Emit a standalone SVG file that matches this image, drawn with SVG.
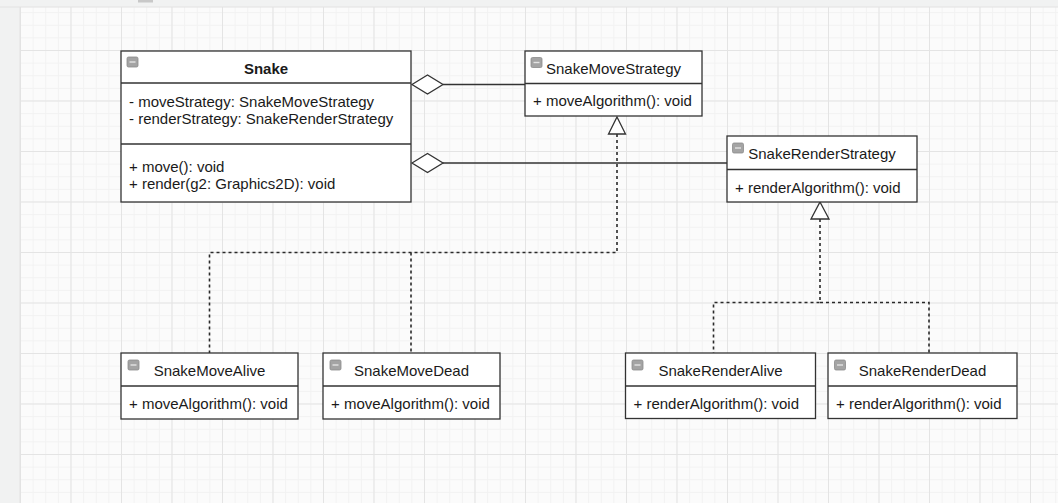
<svg xmlns="http://www.w3.org/2000/svg" width="1058" height="503" viewBox="0 0 1058 503">
  <defs>
    <style>
      .box { fill: #ffffff; stroke: #333333; stroke-width: 1.3; }
      .sep { stroke: #333333; stroke-width: 1.3; }
      .t { font-family: "Liberation Sans", Arial, sans-serif; font-size: 15px; fill: #1a1a1a; }
      .title { text-anchor: middle; }
      .bold { font-weight: bold; }
      .icon rect { fill: #a4a4a4; stroke: #8a8a8a; stroke-width: 0.8; }
      .icon line { stroke: #e4e4e4; stroke-width: 1.4; }
      .solid { fill: none; stroke: #333333; stroke-width: 1.3; }
      .dash { fill: none; stroke: #2a2a2a; stroke-width: 1.6; stroke-dasharray: 3 3; }
      .diamond { fill: #ffffff; stroke: #333333; stroke-width: 1.3; }
      .tri { fill: #ffffff; stroke: #333333; stroke-width: 1.3; }
    </style>
    <pattern id="minor" x="20" y="-0.5" width="12.625" height="12.625" patternUnits="userSpaceOnUse">
      <path d="M0 0.5 H12.625 M0.5 0 V12.625" stroke="#f2f2f2" stroke-width="1" fill="none"/>
    </pattern>
    <pattern id="major" x="20" y="-0.5" width="50.5" height="50.5" patternUnits="userSpaceOnUse">
      <path d="M0 0.5 H50.5 M0.5 0 V50.5" stroke="#e4e4e4" stroke-width="1" fill="none"/>
    </pattern>
    <g id="collapse" class="icon">
      <rect x="0" y="0" width="11" height="10" rx="1.5"/>
      <line x1="2.5" y1="5" x2="8.5" y2="5"/>
    </g>
  </defs>

  <!-- editor chrome and grid canvas -->
  <rect x="0" y="0" width="1058" height="503" fill="#f1f2f2"/>
  <rect x="20" y="7" width="1038" height="496" fill="#fbfbfb"/>
  <rect x="20" y="7" width="1038" height="496" fill="url(#minor)"/>
  <rect x="20" y="7" width="1038" height="496" fill="url(#major)"/>
  <line x1="0" y1="7" x2="1058" y2="7" stroke="#e2e2e2" stroke-width="1"/>
  <line x1="20" y1="7" x2="20" y2="503" stroke="#e2e2e2" stroke-width="1"/>
  <rect x="138" y="0" width="15" height="2.5" fill="#c8c8c8"/>

  <!-- connectors -->
  <g id="connectors">
    <!-- aggregations from Snake -->
    <line class="solid" x1="443" y1="84.5" x2="525" y2="84.5"/>
    <polygon class="diamond" points="412,84.5 427.5,75 443,84.5 427.5,94"/>
    <line class="solid" x1="443" y1="163" x2="727" y2="163"/>
    <polygon class="diamond" points="412,163 427.5,153.5 443,163 427.5,172.5"/>

    <!-- realizations of SnakeMoveStrategy -->
    <path class="dash" d="M617 134 V252.5 H209.5 V353"/>
    <path class="dash" d="M411 252.5 V353"/>
    <polygon class="tri" points="617,117 625.5,134 608.5,134"/>

    <!-- realizations of SnakeRenderStrategy -->
    <path class="dash" d="M820 219 V302.5 H713.5 V353"/>
    <path class="dash" d="M820 302.5 H929 V353"/>
    <polygon class="tri" points="820,202 829,219 811,219"/>
  </g>

  <!-- Snake -->
  <g id="snake">
    <rect class="box" x="121" y="51" width="290" height="151"/>
    <line class="sep" x1="121" y1="83" x2="411" y2="83"/>
    <line class="sep" x1="121" y1="144" x2="411" y2="144"/>
    <use href="#collapse" x="127" y="57"/>
    <text class="t title bold" x="266" y="73.5">Snake</text>
    <text class="t" x="129" y="106.5">- moveStrategy: SnakeMoveStrategy</text>
    <text class="t" x="129" y="124">- renderStrategy: SnakeRenderStrategy</text>
    <text class="t" x="129" y="171.5">+ move(): void</text>
    <text class="t" x="129" y="189">+ render(g2: Graphics2D): void</text>
  </g>

  <!-- SnakeMoveStrategy -->
  <g id="snake-move-strategy">
    <rect class="box" x="525" y="51" width="177" height="65"/>
    <line class="sep" x1="525" y1="83.5" x2="702" y2="83.5"/>
    <use href="#collapse" x="531" y="57.5"/>
    <text class="t title" x="613.5" y="74">SnakeMoveStrategy</text>
    <text class="t" x="533" y="106">+ moveAlgorithm(): void</text>
  </g>

  <!-- SnakeRenderStrategy -->
  <g id="snake-render-strategy">
    <rect class="box" x="727" y="136" width="190" height="66"/>
    <line class="sep" x1="727" y1="169.5" x2="917" y2="169.5"/>
    <use href="#collapse" x="732.5" y="143"/>
    <text class="t title" x="822" y="159">SnakeRenderStrategy</text>
    <text class="t" x="735" y="192.5">+ renderAlgorithm(): void</text>
  </g>

  <!-- SnakeMoveAlive -->
  <g id="snake-move-alive">
    <rect class="box" x="121" y="353" width="177" height="66"/>
    <line class="sep" x1="121" y1="386" x2="298" y2="386"/>
    <use href="#collapse" x="128" y="360"/>
    <text class="t title" x="209.5" y="375.5">SnakeMoveAlive</text>
    <text class="t" x="129" y="408.5">+ moveAlgorithm(): void</text>
  </g>

  <!-- SnakeMoveDead -->
  <g id="snake-move-dead">
    <rect class="box" x="323" y="353" width="177" height="66"/>
    <line class="sep" x1="323" y1="386" x2="500" y2="386"/>
    <use href="#collapse" x="330" y="360"/>
    <text class="t title" x="411.5" y="375.5">SnakeMoveDead</text>
    <text class="t" x="331" y="408.5">+ moveAlgorithm(): void</text>
  </g>

  <!-- SnakeRenderAlive -->
  <g id="snake-render-alive">
    <rect class="box" x="625.5" y="353" width="190" height="65.5"/>
    <line class="sep" x1="625.5" y1="386" x2="815.5" y2="386"/>
    <use href="#collapse" x="632" y="360"/>
    <text class="t title" x="720.5" y="375.5">SnakeRenderAlive</text>
    <text class="t" x="633.5" y="408.5">+ renderAlgorithm(): void</text>
  </g>

  <!-- SnakeRenderDead -->
  <g id="snake-render-dead">
    <rect class="box" x="828" y="353" width="189" height="65.5"/>
    <line class="sep" x1="828" y1="386" x2="1017" y2="386"/>
    <use href="#collapse" x="834.5" y="360"/>
    <text class="t title" x="922.5" y="375.5">SnakeRenderDead</text>
    <text class="t" x="836" y="408.5">+ renderAlgorithm(): void</text>
  </g>
</svg>
